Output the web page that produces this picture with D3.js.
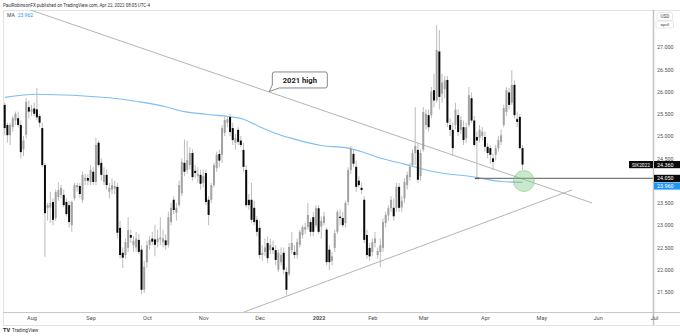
<!DOCTYPE html>
<html><head><meta charset="utf-8">
<script src="https://cdn.jsdelivr.net/npm/d3@7"></script>
<style>html,body{margin:0;padding:0;background:#fff;}svg{display:block;font-family:Roboto,"DejaVu Sans",sans-serif;}</style>
</head><body><svg id="chart" width="680" height="336"></svg>
<script>
// ---------------- DATA ----------------
const dates = [
"2021-07-19","2021-07-20","2021-07-21","2021-07-22","2021-07-23","2021-07-26","2021-07-27","2021-07-28","2021-07-29","2021-07-30",
"2021-08-02","2021-08-03","2021-08-04","2021-08-05","2021-08-06","2021-08-09","2021-08-10","2021-08-11","2021-08-12","2021-08-13","2021-08-16","2021-08-17","2021-08-18","2021-08-19","2021-08-20","2021-08-23","2021-08-24","2021-08-25","2021-08-26","2021-08-27","2021-08-30","2021-08-31",
"2021-09-01","2021-09-02","2021-09-03","2021-09-07","2021-09-08","2021-09-09","2021-09-10","2021-09-13","2021-09-14","2021-09-15","2021-09-16","2021-09-17","2021-09-20","2021-09-21","2021-09-22","2021-09-23","2021-09-24","2021-09-27","2021-09-28","2021-09-29","2021-09-30",
"2021-10-01","2021-10-04","2021-10-05","2021-10-06","2021-10-07","2021-10-08","2021-10-11","2021-10-12","2021-10-13","2021-10-14","2021-10-15","2021-10-18","2021-10-19","2021-10-20","2021-10-21","2021-10-22","2021-10-25","2021-10-26","2021-10-27","2021-10-28","2021-10-29",
"2021-11-01","2021-11-02","2021-11-03","2021-11-04","2021-11-05","2021-11-08","2021-11-09","2021-11-10","2021-11-11","2021-11-12","2021-11-15","2021-11-16","2021-11-17","2021-11-18","2021-11-19","2021-11-22","2021-11-23","2021-11-24","2021-11-26","2021-11-29","2021-11-30",
"2021-12-01","2021-12-02","2021-12-03","2021-12-06","2021-12-07","2021-12-08","2021-12-09","2021-12-10","2021-12-13","2021-12-14","2021-12-15","2021-12-16","2021-12-17","2021-12-20","2021-12-21","2021-12-22","2021-12-23","2021-12-27","2021-12-28","2021-12-29","2021-12-30","2021-12-31",
"2022-01-03","2022-01-04","2022-01-05","2022-01-06","2022-01-07","2022-01-10","2022-01-11","2022-01-12","2022-01-13","2022-01-14","2022-01-18","2022-01-19","2022-01-20","2022-01-21","2022-01-24","2022-01-25","2022-01-26","2022-01-27","2022-01-28","2022-01-31",
"2022-02-01","2022-02-02","2022-02-03","2022-02-04","2022-02-07","2022-02-08","2022-02-09","2022-02-10","2022-02-11","2022-02-14","2022-02-15","2022-02-16","2022-02-17","2022-02-18","2022-02-22","2022-02-23","2022-02-24","2022-02-25","2022-02-28",
"2022-03-01","2022-03-02","2022-03-03","2022-03-04","2022-03-07","2022-03-08","2022-03-09","2022-03-10","2022-03-11","2022-03-14","2022-03-15","2022-03-16","2022-03-17","2022-03-18","2022-03-21","2022-03-22","2022-03-23","2022-03-24","2022-03-25","2022-03-28","2022-03-29","2022-03-30","2022-03-31",
"2022-04-01","2022-04-04","2022-04-05","2022-04-06","2022-04-07","2022-04-08","2022-04-11","2022-04-12","2022-04-13","2022-04-14","2022-04-18","2022-04-19","2022-04-20","2022-04-21","2022-04-22"];

const open = [
25.70,25.25,25.02,25.20,25.35,25.40,25.25,24.70,25.03,25.65,
25.55,25.62,25.60,25.45,25.18,24.35,23.38,23.40,23.52,23.16,23.63,23.68,23.68,23.52,23.45,23.00,23.60,23.85,23.88,23.57,24.00,24.06,
23.97,24.20,23.97,24.85,24.40,23.97,24.13,23.75,23.80,23.82,23.86,22.94,22.38,22.33,22.49,22.78,22.55,22.50,22.67,22.45,21.55,
22.17,22.55,22.70,22.68,22.62,22.68,22.62,22.66,22.56,23.07,23.57,23.28,23.45,23.72,24.40,24.24,24.35,24.62,24.22,24.10,24.13,
23.95,24.17,23.57,23.57,23.90,24.28,24.60,24.58,25.07,25.30,25.43,25.18,24.85,25.14,24.90,24.69,24.24,23.57,23.57,23.39,23.12,
22.94,22.33,22.40,22.60,22.44,22.50,22.44,22.00,22.17,22.38,21.95,21.90,22.44,22.40,22.33,22.56,22.78,22.90,22.96,23.07,23.18,23.00,
23.38,22.97,23.05,22.90,22.45,22.20,22.49,22.85,23.19,23.16,23.05,23.52,24.24,24.60,24.31,24.00,23.84,23.57,22.78,22.49,
22.40,22.60,22.33,22.40,22.49,23.05,23.22,23.38,23.39,23.39,23.86,23.40,23.60,23.90,24.08,24.35,24.62,24.69,24.10,
24.70,25.25,25.47,25.47,26.03,25.80,26.90,25.95,26.05,26.26,25.25,25.14,25.25,25.47,25.14,25.20,24.95,25.25,25.85,25.35,24.98,24.96,25.00,
24.98,24.76,24.73,24.50,24.58,24.73,24.87,25.25,25.54,25.98,25.75,26.15,25.38,25.43,24.73];

const high = [
25.75,25.30,25.30,25.45,25.55,25.55,25.35,25.00,25.85,25.80,
25.70,25.75,26.08,25.50,25.30,24.40,23.50,23.75,23.60,23.80,23.96,23.90,23.80,23.60,23.55,23.55,23.95,23.95,23.95,24.20,24.15,24.15,
24.35,24.30,24.96,24.90,24.50,24.30,24.25,23.95,24.05,24.00,23.95,23.10,22.50,22.70,23.18,22.90,22.75,22.85,22.80,22.55,22.20,
22.65,22.75,22.85,23.00,22.90,23.18,22.90,22.80,23.30,23.50,23.65,23.50,24.00,24.50,24.92,24.90,24.75,24.70,24.35,24.30,24.25,
24.25,24.25,23.65,23.95,24.40,24.65,24.70,25.25,25.45,25.45,25.50,25.30,25.05,25.20,25.00,24.85,24.35,23.70,23.95,23.55,23.20,
23.10,22.55,22.70,22.75,22.70,22.65,22.55,22.45,22.50,22.50,22.05,22.60,22.85,22.55,22.70,22.90,23.00,23.05,23.50,23.15,23.30,23.45,
23.45,23.20,23.30,22.95,22.55,22.40,22.90,23.35,23.35,23.30,23.55,24.30,24.78,24.70,24.45,24.10,23.95,23.65,22.90,22.60,
22.70,22.85,22.50,22.70,23.15,23.30,23.45,23.65,23.60,23.95,23.95,23.65,24.05,24.20,24.40,24.70,25.65,24.85,24.70,
25.65,25.60,25.60,26.10,26.40,27.49,27.38,26.40,26.35,26.35,25.40,25.30,25.75,25.60,25.45,25.35,25.30,26.10,25.98,25.45,25.10,25.25,25.20,
25.10,24.85,24.80,24.60,24.80,25.00,25.15,25.70,26.10,26.08,26.48,26.25,25.55,25.50,24.80];

const low = [
25.02,24.85,24.80,25.10,25.25,25.20,24.50,24.55,24.95,25.40,
25.45,25.45,25.35,25.20,24.30,22.29,23.10,23.05,23.00,23.10,23.55,23.60,23.40,23.20,22.95,22.85,23.55,23.75,23.60,23.50,23.90,23.90,
23.90,23.90,23.90,24.30,24.00,23.90,23.80,23.60,23.70,23.70,22.70,22.25,22.04,22.25,22.40,22.60,22.40,22.40,22.35,21.45,21.48,
22.05,22.45,22.55,22.30,22.50,22.55,22.50,22.45,22.50,23.00,23.25,23.10,23.40,23.65,24.10,24.15,24.25,24.00,24.05,23.95,23.80,
23.85,23.45,23.00,23.50,23.85,24.20,24.30,24.40,25.00,25.20,25.00,24.80,24.70,24.80,24.75,24.20,23.40,23.35,23.05,23.00,22.75,
22.25,22.20,22.30,22.15,22.35,22.35,22.10,21.95,22.10,21.90,21.42,21.85,22.35,22.25,22.25,22.50,22.70,22.80,22.90,22.75,22.75,22.95,
22.80,22.70,23.00,22.10,21.99,22.10,22.40,22.80,23.00,22.95,22.95,23.45,24.15,24.30,23.75,23.85,23.70,22.60,22.25,22.20,
22.30,22.50,22.25,22.06,22.40,22.95,23.10,23.30,23.10,23.30,23.30,23.30,23.50,23.80,24.00,24.30,24.35,23.95,24.00,
24.65,25.15,25.10,25.40,25.65,25.75,25.60,25.75,25.85,25.20,25.00,24.55,25.15,25.00,25.05,24.80,24.85,25.20,25.30,24.76,24.05,24.85,24.90,
24.65,24.50,24.38,24.24,24.45,24.65,24.80,25.20,25.45,25.60,25.70,25.40,25.20,24.70,24.24];

const close = [
25.18,25.02,25.25,25.40,25.50,25.25,24.64,24.90,25.77,25.55,
25.60,25.50,25.42,25.30,24.35,23.27,23.45,23.50,23.12,23.74,23.79,23.84,23.45,23.25,23.07,23.52,23.90,23.90,23.70,24.13,24.06,24.00,
24.24,23.97,24.80,24.35,24.13,24.13,23.90,23.84,23.90,23.88,22.83,22.33,22.27,22.62,22.89,22.72,22.65,22.70,22.40,21.55,22.07,
22.55,22.67,22.63,22.56,22.70,22.72,22.70,22.55,23.18,23.39,23.34,23.39,23.90,24.42,24.20,24.46,24.62,24.08,24.17,24.15,23.93,
24.10,23.52,23.23,23.90,24.35,24.58,24.45,25.18,25.36,25.38,25.09,24.91,24.95,24.87,24.80,24.31,23.45,23.45,23.12,23.07,22.85,
22.33,22.38,22.50,22.26,22.56,22.44,22.22,22.38,22.33,22.00,21.55,22.51,22.60,22.33,22.62,22.85,22.96,22.96,23.23,22.85,22.85,23.38,
22.85,23.10,23.20,22.17,22.17,22.30,22.82,23.30,23.16,23.00,23.50,24.24,24.73,24.38,23.86,23.90,23.79,22.67,22.33,22.30,
22.62,22.70,22.42,22.55,23.07,23.23,23.38,23.57,23.20,23.86,23.39,23.55,23.97,24.13,24.31,24.62,24.78,24.02,24.62,
25.54,25.50,25.20,26.00,25.80,26.93,25.88,26.20,26.25,25.30,25.14,24.73,25.59,25.09,25.36,24.91,25.20,25.92,25.35,24.80,24.90,25.14,25.10,
24.76,24.62,24.58,24.42,24.73,24.91,25.02,25.63,26.03,25.70,26.15,25.47,25.32,24.73,24.36];

// 200-day moving average, read at a few bars (bar index -> value)
const maIndex = [0, 12, 39, 50, 60, 67, 75, 84, 89, 95, 101, 106, 118, 128, 133, 141, 149, 160, 175, 185, 193];
const maValue = [25.87, 25.94, 25.86, 25.77, 25.66, 25.55, 25.49, 25.435, 25.38, 25.21, 25.06, 24.965, 24.79, 24.73, 24.65, 24.49, 24.37, 24.20, 24.08, 23.98, 23.962];

// time axis (bar index of first session of each month; May-Jul projected)
const monthLabels = ["Aug","Sep","Oct","Nov","Dec","2022","Feb","Mar","Apr","May","Jun","Jul"];
const monthIndex  = [10, 32, 53, 74, 95, 117, 137, 156, 179, 200, 221, 242];
const lastIndex = 242;

// price axis
const priceTicks = [21.5, 22, 22.5, 23, 23.5, 24.5, 25, 25.5, 26, 26.5, 27];

// annotations (bar index, price)
const trendDownIdx = [0, 218.9],  trendDownVal = [28.03, 23.50];
const trendUpIdx   = [89.2, 211.4], trendUpVal  = [21.05, 23.79];
const supportLevel = 24.05, supportStartIdx = 176;
const circleIdx = 193.5, circleVal = 23.99;
const noteText = "2021 high", noteIdx = 110, noteVal = 26.26, noteTipIdx = 98.6, noteTipVal = 26.0;
const symbol = "SIK2022", lastClose = 24.36, maLast = 23.962, maLabel = 23.96;

// ---------------- CHART ----------------
const svg = d3.select("#chart");
const P = {left:3, top:10, right:653, bottom:312, frameBottom:325};
const FONT = "Roboto, 'DejaVu Sans', sans-serif";

const x = d3.scaleLinear().domain([0, lastIndex]).range([4.7, 654.0]);
const y = d3.scaleLinear().domain([21.5, 27]).range([292, 47]);

svg.append("rect").attr("width",680).attr("height",336).attr("fill","#fff");

svg.append("defs").append("clipPath").attr("id","clip")
  .append("rect").attr("x",P.left).attr("y",P.top).attr("width",P.right-P.left).attr("height",P.bottom-P.top);

// frame
const frame = svg.append("g").attr("fill","none");
frame.append("path").attr("d",`M${P.left+0.5},${P.frameBottom}V${P.top+0.5}H680`).attr("stroke","#e3e3e3");
frame.append("line").attr("x1",P.left).attr("x2",680).attr("y1",P.frameBottom+0.5).attr("y2",P.frameBottom+0.5).attr("stroke","#e3e3e3");

const plot = svg.append("g").attr("clip-path","url(#clip)");

// trendlines
const lineGen = d3.line().x(d=>x(d[0])).y(d=>y(d[1]));
plot.append("path").datum(trendDownIdx.map((v,k)=>[v,trendDownVal[k]]))
  .attr("d",lineGen).attr("stroke","#b4b4b4").attr("stroke-width",1).attr("fill","none");
plot.append("path").datum(trendUpIdx.map((v,k)=>[v,trendUpVal[k]]))
  .attr("d",lineGen).attr("stroke","#b4b4b4").attr("stroke-width",1).attr("fill","none");

// moving average
plot.append("path").datum(maIndex.map((v,k)=>[v,maValue[k]]))
  .attr("d",d3.line().x(d=>x(d[0])).y(d=>y(d[1])).curve(d3.curveMonotoneX))
  .attr("stroke","#7dbdf5").attr("stroke-width",1.1).attr("fill","none");

// candles
const bars = dates.map((d,i)=>({i,o:open[i],h:high[i],l:low[i],c:close[i]}));
plot.append("g").selectAll("line").data(bars).join("line")
  .attr("x1",d=>x(d.i)).attr("x2",d=>x(d.i))
  .attr("y1",d=>y(d.h)).attr("y2",d=>y(d.l))
  .attr("stroke","#bcbcbc").attr("stroke-width",1);
plot.append("g").selectAll("rect").data(bars).join("rect")
  .attr("x",d=>x(d.i)-1).attr("width",2)
  .attr("y",d=>y(Math.max(d.o,d.c)))
  .attr("height",d=>Math.max(1,Math.abs(y(d.o)-y(d.c))))
  .attr("fill",d=>d.c>=d.o?"#a2a2a2":"#0a0a0a");

// horizontal support
plot.append("line").attr("x1",x(supportStartIdx)).attr("x2",P.right)
  .attr("y1",y(supportLevel)).attr("y2",y(supportLevel))
  .attr("stroke","#7a7a7a").attr("stroke-width",1.4);
plot.append("line").attr("x1",x(supportStartIdx)-2).attr("x2",x(supportStartIdx)+2)
  .attr("y1",y(supportLevel)).attr("y2",y(supportLevel)).attr("stroke","#555").attr("stroke-width",1.4);

// highlight circle
plot.append("circle").attr("cx",x(circleIdx)).attr("cy",y(circleVal)).attr("r",10.5)
  .attr("fill","rgba(129,199,132,0.42)").attr("stroke","rgba(102,187,106,0.55)").attr("stroke-width",0.8);

// callout
const nx = x(noteIdx), ny = y(noteVal), bw = 55, bh = 16;
const bx0 = nx-bw/2, bx1 = nx+bw/2, by0 = ny-bh/2, by1 = ny+bh/2;
const tx = x(noteTipIdx), ty = y(noteTipVal);
svg.append("path")
  .attr("d",`M${bx0+2},${by0}H${bx1-2}Q${bx1},${by0} ${bx1},${by0+2}V${by1-2}Q${bx1},${by1} ${bx1-2},${by1}H${bx0+7}L${tx},${ty}L${bx0},${by1-3}V${by0+2}Q${bx0},${by0} ${bx0+2},${by0}Z`)
  .attr("fill","#fff").attr("stroke","#6b6b6b").attr("stroke-width",0.8);
svg.append("text").attr("x",nx).attr("y",ny+2.6).attr("text-anchor","middle")
  .attr("font-family",FONT).attr("font-size",7.6).attr("font-weight","bold").attr("fill","#1a1a1a").text(noteText);

// axes borders
svg.append("line").attr("x1",P.left).attr("x2",680).attr("y1",P.bottom+0.5).attr("y2",P.bottom+0.5).attr("stroke","#c9c9c9").attr("stroke-width",1);
svg.append("line").attr("x1",P.right+0.5).attr("x2",P.right+0.5).attr("y1",P.top).attr("y2",P.frameBottom).attr("stroke","#c4c4c4").attr("stroke-width",1.5);

// price axis
const yAxis = d3.axisRight(y).tickValues(priceTicks).tickFormat(d3.format(".3f")).tickSize(0).tickPadding(4);
const ya = svg.append("g").attr("transform",`translate(${P.right},0)`).call(yAxis);
ya.select(".domain").remove();
ya.selectAll("text").attr("font-family",FONT).attr("font-size",5.4).attr("fill","#505050");

// time axis
const xAxis = d3.axisBottom(x).tickValues(monthIndex).tickFormat((d,k)=>monthLabels[k]).tickSize(0).tickPadding(4);
const xa = svg.append("g").attr("transform",`translate(0,${P.bottom})`).call(xAxis);
xa.select(".domain").remove();
xa.selectAll("text").attr("font-family",FONT).attr("font-size",5.6).attr("fill","#505050")
  .attr("font-weight",(d,k)=>monthLabels[k]==="2022"?"bold":"normal");

// price labels on right scale
function priceTag(val, yc, bg, txt){
  svg.append("rect").attr("x",P.right+1).attr("y",yc-3.6).attr("width",27).attr("height",7.2).attr("fill",bg);
  svg.append("text").attr("x",P.right+4).attr("y",yc+2).attr("font-family",FONT).attr("font-size",5.4)
    .attr("fill","#fff").text(txt);
}
const yLast = y(lastClose);
svg.append("rect").attr("x",P.right-24).attr("y",yLast-3.6).attr("width",24).attr("height",7.2).attr("fill","#0a0a0a");
svg.append("text").attr("x",P.right-12).attr("y",yLast+1.9).attr("text-anchor","middle").attr("font-family",FONT)
  .attr("font-size",4.8).attr("fill","#fff").text(symbol);
priceTag(lastClose, yLast, "#0a0a0a", d3.format(".3f")(lastClose));
const ySup = y(supportLevel);
priceTag(supportLevel, ySup, "#0a0a0a", d3.format(".3f")(supportLevel));
priceTag(maLabel, ySup+7.6, "#2196f3", d3.format(".3f")(maLabel));

// currency box
svg.append("rect").attr("x",657).attr("y",12.5).attr("width",15.5).attr("height",8).attr("rx",1.5).attr("fill","#fff").attr("stroke","#d6d6d6").attr("stroke-width",0.6);
svg.append("text").attr("x",664.8).attr("y",18.3).attr("text-anchor","middle").attr("font-family",FONT).attr("font-size",4.6).attr("fill","#444").text("USD");
svg.append("rect").attr("x",656).attr("y",21).attr("width",17.5).attr("height",7).attr("rx",1.5).attr("fill","#fff").attr("stroke","#d6d6d6").attr("stroke-width",0.6);
svg.append("text").attr("x",664.8).attr("y",26.2).attr("text-anchor","middle").attr("font-family",FONT).attr("font-size",4.4).attr("fill","#444").text("april");

// header
svg.append("text").attr("x",3).attr("y",6.8).attr("font-family",FONT).attr("font-size",4.6).attr("fill","#333")
  .attr("textLength",147).attr("lengthAdjust","spacingAndGlyphs")
  .text("PaulRobinsonFX published on TradingView.com, Apr 22, 2022 08:05 UTC-4");

// MA legend
const leg = svg.append("text").attr("x",7).attr("y",17).attr("font-family",FONT).attr("font-size",5);
leg.append("tspan").attr("fill","#444").text("MA");
leg.append("tspan").attr("dx",3).attr("fill","#2196f3").text(d3.format(".3f")(maLast));

// logo
svg.append("text").attr("x",3).attr("y",332).attr("font-family",FONT).attr("font-size",5.5).attr("font-weight","bold").attr("fill","#131722").text("TV");
svg.append("text").attr("x",12).attr("y",332).attr("font-family",FONT).attr("font-size",4.8).attr("fill","#333").text("TradingView");
</script></body></html>
